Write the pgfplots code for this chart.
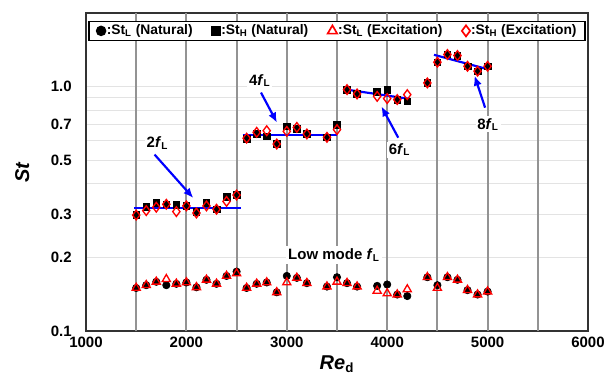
\documentclass[border=0pt]{standalone}
\usepackage{pgfplots}
\usepackage{pgfplotstable}
\pgfplotsset{compat=1.18}
\usetikzlibrary{arrows.meta}
\usepackage{fontspec}
\setmainfont{Liberation Sans}

\pgfplotstableread{
Re St
1500 0.150
1600 0.154
1700 0.159
1800 0.154
1900 0.156
2000 0.158
2100 0.151
2200 0.162
2300 0.156
2400 0.168
2500 0.175
2600 0.150
2700 0.156
2800 0.158
2900 0.144
3000 0.168
3100 0.165
3200 0.157
3400 0.152
3500 0.166
3600 0.157
3700 0.152
3900 0.153
4000 0.155
4100 0.141
4200 0.139
4400 0.166
4500 0.154
4600 0.166
4700 0.162
4800 0.147
4900 0.141
5000 0.145
}\StLnat

\pgfplotstableread{
Re St
1500 0.150
1600 0.154
1700 0.159
1800 0.163
1900 0.156
2000 0.158
2100 0.151
2200 0.162
2300 0.156
2400 0.168
2500 0.172
2600 0.150
2700 0.156
2800 0.158
2900 0.144
3000 0.158
3100 0.165
3200 0.157
3400 0.152
3500 0.159
3600 0.157
3700 0.152
3900 0.146
4000 0.1425
4100 0.141
4200 0.148
4400 0.166
4500 0.150
4600 0.166
4700 0.162
4800 0.147
4900 0.141
5000 0.145
}\StLexc

\pgfplotstableread{
Re St
1500 0.298
1600 0.323
1700 0.334
1800 0.330
1900 0.328
2000 0.325
2100 0.308
2200 0.334
2300 0.315
2400 0.355
2500 0.360
2600 0.612
2700 0.642
2800 0.626
2900 0.582
3000 0.688
3100 0.673
3200 0.640
3400 0.620
3500 0.699
3600 0.972
3700 0.933
3900 0.951
4000 0.972
4100 0.885
4200 0.871
4400 1.035
4500 1.258
4600 1.353
4700 1.340
4800 1.211
4900 1.156
5000 1.211
}\StHnat

\pgfplotstableread{
Re St
1500 0.298
1600 0.311
1700 0.321
1800 0.330
1900 0.308
2000 0.325
2100 0.304
2200 0.325
2300 0.315
2400 0.339
2500 0.360
2600 0.615
2700 0.650
2800 0.660
2900 0.582
3000 0.656
3100 0.681
3200 0.640
3400 0.620
3500 0.667
3600 0.972
3700 0.933
3900 0.912
4000 0.893
4100 0.885
4200 0.927
4400 1.035
4500 1.258
4600 1.353
4700 1.340
4800 1.211
4900 1.156
5000 1.211
}\StHexc

\begin{document}
\begin{tikzpicture}
\begin{axis}[
  name=ax,
  scale only axis,
  width=301.2pt, height=190.8pt,
  xmin=1000, xmax=6000,
  ymode=log, ymin=0.1, ymax=2,
  xtick={1000,2000,3000,4000,5000,6000},
  xticklabels={1000,2000,3000,4000,5000,6000},
  ytick={0.1,0.2,0.3,0.4,0.5,0.6,0.7,0.8,0.9,1.0},
  yticklabels={0.1,0.2,0.3,,0.5,,0.7,,,1.0},
  minor ytick={},
  log basis y=10,
  xmajorgrids=false, ymajorgrids=true,
  major grid style={line width=0.6pt, color=gray!22},
  extra x ticks={1500,2000,2500,3000,3500,4000,4500,5000,5500},
  extra x tick labels={},
  extra tick style={grid=major, major grid style={line width=1.1pt, color=gray!85}},
  major tick length=0pt, minor tick length=0pt,
  axis line style={line width=1pt, color=black!80},
  /pgf/number format/assume math mode=true,
  ticklabel style={font=\bfseries\fontsize{9}{10}\selectfont},
  xticklabel style={anchor=north, inner sep=0pt, yshift=-3.6pt},
  yticklabel style={anchor=east, inner sep=0pt, xshift=-8.4pt},
  xlabel={\textit{Re}\textsubscript{d}},
  xlabel style={at={(axis description cs:0.5,0)}, anchor=north, inner sep=0pt, yshift=-14.5pt, font=\bfseries\fontsize{12}{13}\selectfont},
  ylabel={\textit{St}},
  ylabel style={at={(axis description cs:-0.112,0.5)}, anchor=south, inner sep=0pt, font=\bfseries\fontsize{12}{13}\selectfont},
  legend columns=4,
  legend style={at={(axis description cs:0.5,0.9758)}, anchor=north, draw=black, line width=0.7pt,
    font=\bfseries\fontsize{8.3}{9.5}\selectfont, inner xsep=4.5pt, inner ysep=1.5pt,
    /tikz/every even column/.append style={column sep=11pt},
    nodes={inner xsep=0.6pt, inner ysep=0.5pt}},
  legend cell align=left,
  legend image code/.code={\draw[mark repeat=2,mark phase=2,#1] plot coordinates {(0cm,0cm) (0.15cm,0cm) (0.30cm,0cm)};},
]
% legend entries
\addlegendimage{only marks, mark=*, mark size=2.8pt, black}
\addlegendentry{:St\textsubscript{L} (Natural)}
\addlegendimage{only marks, mark=square*, mark size=2.5pt, black}
\addlegendentry{:St\textsubscript{H} (Natural)}
\addlegendimage{only marks, mark=triangle, mark size=3.3pt, red, mark options={line width=1pt}}
\addlegendentry{:St\textsubscript{L} (Excitation)}
\addlegendimage{only marks, mark=diamond, mark size=3.3pt, red, mark options={line width=1pt}}
\addlegendentry{:St\textsubscript{H} (Excitation)}

% data
\addplot[forget plot, only marks, mark=*, mark size=2.2pt, black] table[x=Re,y=St] {\StLnat};
\addplot[forget plot, only marks, mark=square*, mark size=2pt, black] table[x=Re,y=St] {\StHnat};
\addplot[forget plot, only marks, mark=triangle, mark size=2.8pt, red, mark options={line width=0.8pt}] table[x=Re,y=St] {\StLexc};
\addplot[forget plot, only marks, mark=diamond, mark size=2.9pt, red, mark options={line width=0.8pt}] table[x=Re,y=St] {\StHexc};

% fit lines
\addplot[forget plot, blue, line width=1.3pt] coordinates {(1480,0.318) (2540,0.318)};
\addplot[forget plot, blue, line width=1.3pt] coordinates {(2560,0.636) (3500,0.636)};
\addplot[forget plot, blue, line width=1.3pt] coordinates {(3593,0.972) (4227,0.890)};
\addplot[forget plot, blue, line width=1.3pt] coordinates {(4466,1.349) (5010,1.175)};

% annotations
\draw[blue, line width=1.3pt, -{Latex[length=6pt,width=5pt]}] (axis cs:1683,0.527) -- (axis cs:2069,0.350);
\draw[blue, line width=1.3pt, -{Latex[length=6pt,width=5pt]}] (axis cs:2743,0.945) -- (axis cs:2902,0.712);
\draw[blue, line width=1.3pt, -{Latex[length=6pt,width=5pt]}] (axis cs:4110,0.618) -- (axis cs:3942,0.830);
\draw[blue, line width=1.3pt, -{Latex[length=6pt,width=5pt]}] (axis cs:4975,0.820) -- (axis cs:4870,1.109);

\node[fill=white, inner sep=1pt, font=\bfseries\fontsize{9}{10}\selectfont] at (axis cs:1712,0.589) {2\textit{f}\textsubscript{L}};
\node[fill=white, inner sep=1pt, font=\bfseries\fontsize{9}{10}\selectfont] at (axis cs:2732,1.059) {4\textit{f}\textsubscript{L}};
\node[fill=white, inner sep=1pt, font=\bfseries\fontsize{9}{10}\selectfont] at (axis cs:4124,0.552) {6\textit{f}\textsubscript{L}};
\node[fill=white, inner sep=1pt, font=\bfseries\fontsize{9}{10}\selectfont] at (axis cs:5005,0.700) {8\textit{f}\textsubscript{L}};
\node[fill=white, inner sep=1.5pt, font=\bfseries\fontsize{9}{10}\selectfont] at (axis cs:3470,0.205) {Low mode \textit{f}\textsubscript{L}};
\end{axis}
\pgfresetboundingbox
\useasboundingbox (ax.south west) ++(-51.6pt,-30pt) rectangle ++(365.4pt,228.6pt);
\end{tikzpicture}
\end{document}
